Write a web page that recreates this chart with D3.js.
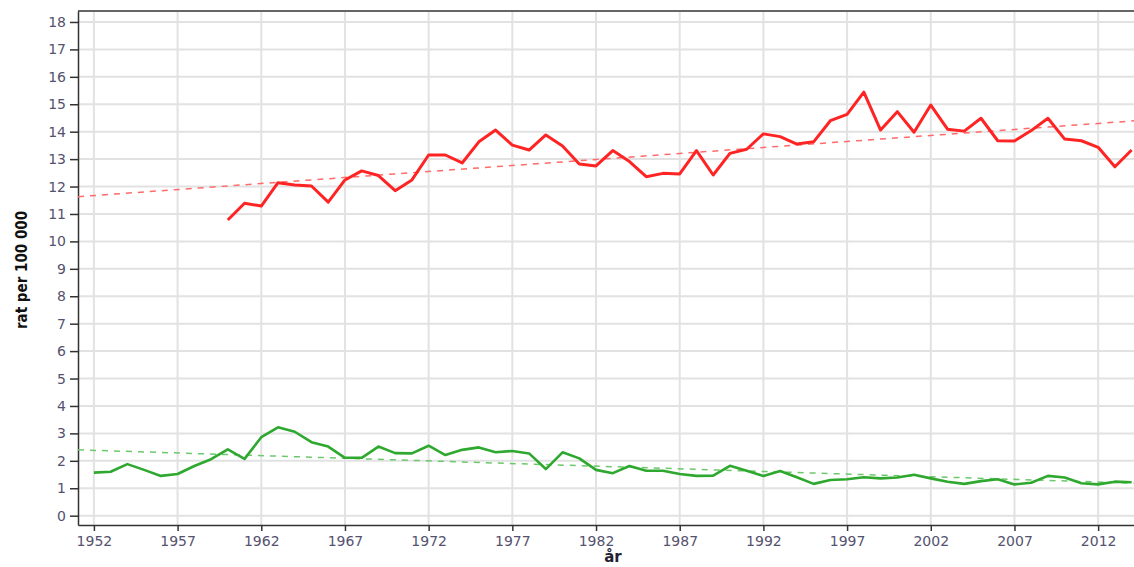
<!DOCTYPE html>
<html>
<head>
<meta charset="utf-8">
<script src="https://cdn.jsdelivr.net/npm/d3@7"></script>
<style>
  body { margin: 0; background: #fff; }
  svg { display: block; }
</style>
</head>
<body>
<div id="chart"></div>
<script>
// values
const redYears = d3.range(1960, 2015)
const redValues = [10.78, 11.39, 11.29, 12.14, 12.06, 12.02, 11.43, 12.24, 12.57, 12.40,
  11.85, 12.24, 13.15, 13.15, 12.86, 13.63, 14.06, 13.51, 13.33, 13.88,
  13.48, 12.82, 12.75, 13.31, 12.91, 12.36, 12.48, 12.46, 13.31, 12.42,
  13.21, 13.36, 13.92, 13.82, 13.55, 13.63, 14.40, 14.63, 15.44, 14.06,
  14.73, 13.98, 14.97, 14.09, 14.02, 14.49, 13.67, 13.66, 14.04, 14.49,
  13.73, 13.67, 13.43, 12.72, 13.33]

const greenYears = d3.range(1952, 2015)
const greenValues = [1.57, 1.60, 1.88, 1.67, 1.45, 1.52, 1.81, 2.06, 2.42, 2.07,
  2.86, 3.22, 3.06, 2.68, 2.52, 2.11, 2.11, 2.52, 2.28, 2.27,
  2.55, 2.21, 2.40, 2.49, 2.31, 2.36, 2.27, 1.70, 2.31, 2.09,
  1.67, 1.55, 1.81, 1.64, 1.64, 1.52, 1.45, 1.46, 1.82, 1.64,
  1.45, 1.63, 1.40, 1.16, 1.30, 1.33, 1.40, 1.36, 1.39, 1.49,
  1.36, 1.24, 1.16, 1.26, 1.33, 1.14, 1.20, 1.45, 1.39, 1.18,
  1.14, 1.24, 1.22]

// trend lines: [year, value] at both ends
const redTrend = [[1951.05, 11.63], [2014.5, 14.41]]
const greenTrend = [[1951.05, 2.40], [2014.5, 1.18]]

const xTicks = d3.range(1952, 2015, 5)
const yTicks = d3.range(0, 19)

const width = 1134, height = 567
const plot = { left: 78, top: 11, right: 1140, bottom: 525 }

const svg = d3.select("#chart").append("svg")
  .attr("width", width)
  .attr("height", height)
  .style("overflow", "hidden")

const x = d3.scaleLinear()
  .domain([1951.05, 2014.5])
  .range([plot.left, plot.right])

const y = d3.scaleLinear()
  .domain([-0.34, 18.4])
  .range([plot.bottom, plot.top])

// grid
svg.append("g")
  .selectAll("line")
  .data(yTicks)
  .join("line")
  .attr("x1", plot.left).attr("x2", plot.right)
  .attr("y1", d => y(d)).attr("y2", d => y(d))
  .attr("stroke", "#e2e2e2")
  .attr("stroke-width", 2)

svg.append("g")
  .selectAll("line")
  .data(xTicks)
  .join("line")
  .attr("x1", d => x(d)).attr("x2", d => x(d))
  .attr("y1", plot.top).attr("y2", plot.bottom)
  .attr("stroke", "#e2e2e2")
  .attr("stroke-width", 2)

// top border
svg.append("line")
  .attr("x1", plot.left).attr("x2", plot.right)
  .attr("y1", plot.top).attr("y2", plot.top)
  .attr("stroke", "#666")
  .attr("stroke-width", 2)

// axes
const xAxis = svg.append("g")
  .attr("transform", `translate(0,${plot.bottom})`)
  .call(d3.axisBottom(x).tickValues(xTicks).tickFormat(d3.format("d")).tickSizeInner(6).tickSizeOuter(0).tickPadding(5))

const yAxis = svg.append("g")
  .attr("transform", `translate(${plot.left},0)`)
  .call(d3.axisLeft(y).tickValues(yTicks).tickSizeInner(8).tickSizeOuter(0).tickPadding(4))

for (const ax of [xAxis, yAxis]) {
  ax.select(".domain").attr("stroke", "#333").attr("stroke-width", 1.5)
  ax.selectAll(".tick line").attr("stroke", "#333").attr("stroke-width", 1.5)
  ax.selectAll(".tick text")
    .attr("fill", "#54526e")
    .style("font-family", "'DejaVu Sans', sans-serif")
    .style("font-size", "14px")
}

// trend lines
const line = d3.line().x(d => x(d[0])).y(d => y(d[1]))

svg.append("path")
  .datum(redTrend)
  .attr("d", line)
  .attr("fill", "none")
  .attr("stroke", "#ff6a6a")
  .attr("stroke-width", 1.5)
  .attr("stroke-dasharray", "6,6")

svg.append("path")
  .datum(greenTrend)
  .attr("d", line)
  .attr("fill", "none")
  .attr("stroke", "#6cc86c")
  .attr("stroke-width", 1.5)
  .attr("stroke-dasharray", "6,6")

// data lines
svg.append("path")
  .datum(d3.zip(redYears, redValues))
  .attr("d", line)
  .attr("fill", "none")
  .attr("stroke", "#ff2424")
  .attr("stroke-width", 3)
  .attr("stroke-linejoin", "round")

svg.append("path")
  .datum(d3.zip(greenYears, greenValues))
  .attr("d", line)
  .attr("fill", "none")
  .attr("stroke", "#2ea82e")
  .attr("stroke-width", 2.6)
  .attr("stroke-linejoin", "round")

// axis titles
svg.append("text")
  .attr("transform", "translate(27,270) rotate(-90)")
  .attr("text-anchor", "middle")
  .style("font-family", "'Liberation Sans Narrow', 'DejaVu Sans Condensed', sans-serif")
  .style("font-weight", "bold")
  .style("font-size", "15px")
  .attr("fill", "#111")
  .text("rat per 100 000")

svg.append("text")
  .attr("x", 613)
  .attr("y", 562)
  .attr("text-anchor", "middle")
  .style("font-family", "'DejaVu Sans', sans-serif")
  .style("font-weight", "bold")
  .style("font-size", "15px")
  .attr("fill", "#222233")
  .text("år")
</script>
</body>
</html>
